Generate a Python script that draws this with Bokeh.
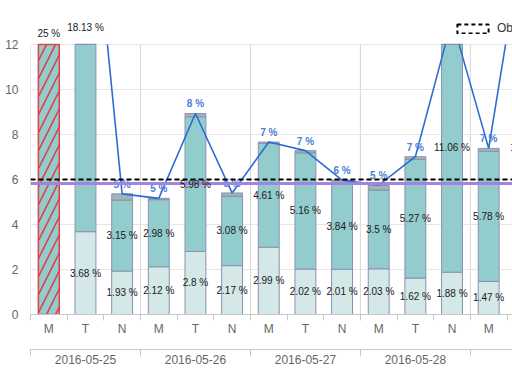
import numpy as np
from bokeh.plotting import figure
from bokeh.models import (ColumnDataSource, Range1d, LinearAxis, FixedTicker, LabelSet,
                          Span, Legend, LegendItem, Grid)
from bokeh.embed import file_html
from bokeh.resources import INLINE
from bokeh.core.properties import value

# ---------------- data ----------------
dates = ["2016-05-25", "2016-05-26", "2016-05-27", "2016-05-28", "2016-05-29"]
shifts = ["M", "T", "N"]
cat_date = ["2016-05-25", "2016-05-25", "2016-05-25",
            "2016-05-26", "2016-05-26", "2016-05-26",
            "2016-05-27", "2016-05-27", "2016-05-27",
            "2016-05-28", "2016-05-28", "2016-05-28",
            "2016-05-29", "2016-05-29"]
cat_shift = ["M", "T", "N", "M", "T", "N", "M", "T", "N", "M", "T", "N", "M", "T"]
bottom_vals = [0, 3.68, 1.93, 2.12, 2.8, 2.17, 2.99, 2.02, 2.01, 2.03, 1.62, 1.88, 1.47, 1.6]
middle_vals = [25, 18.13, 3.15, 2.98, 5.98, 3.08, 4.61, 5.16, 3.84, 3.5, 5.27, 11.06, 5.78, 11.6]
top_vals = [0, 0.1, 0.28, 0.06, 0.15, 0.15, 0.06, 0.1, 0.12, 0.2, 0.12, 0.15, 0.13, 0.15]
flagged = [True, False, False, False, False, False, False, False, False, False, False, False, False, False]
line_vals = [25, 21.9, 5.36, 5.16, 8.93, 5.4, 7.66, 7.28, 5.97, 5.75, 7.01, 13.1, 7.38, 17.4]
line_labels = ["25 %", "21 %", "5 %", "5 %", "8 %", "5 %", "7 %", "7 %", "6 %", "5 %", "7 %", "13 %", "7 %", "17 %"]
objective = 6.0
average = 5.82
y_ticks = [0, 2, 4, 6, 8, 10, 12]
y_max = 12
legend_label = "Objectif"

FONT_NAME = "Liberation Sans"
FONT = value(FONT_NAME)

n = len(cat_shift)
x = np.arange(n)
b = np.array(bottom_vals, dtype=float)
m = np.array(middle_vals, dtype=float)
t = np.array(top_vals, dtype=float)
lv = np.array(line_vals, dtype=float)
flag = np.array(flagged)
normal = ~flag

group_bounds = [-0.5 + len(shifts) * k for k in range(len(dates) + 1)]
group_centers = [1 + len(shifts) * k for k in range(len(dates))]

y_end = 13.95
p = figure(width=512, height=368, x_range=Range1d(-0.5, 12.65), y_range=Range1d(0, y_end),
           output_backend="svg", toolbar_location=None,
           x_axis_type=None, y_axis_type=None,
           min_border_left=30, min_border_right=0, min_border_top=0, min_border_bottom=54)
p.outline_line_color = None
p.background_fill_color = "white"

# grids (the plotting area stops at y_max; texts may go above it)
p.add_layout(Grid(dimension=1, ticker=FixedTicker(ticks=y_ticks[1:]), grid_line_color="#e6e6e6"))
p.segment(x0=group_bounds, y0=0, x1=group_bounds, y1=y_max, line_color="#d6d6d6", line_width=1,
          level="underlay")

# axes
yax = LinearAxis(ticker=FixedTicker(ticks=y_ticks), axis_line_color=None,
                 major_tick_line_color=None, minor_tick_line_color=None,
                 major_tick_out=0, major_tick_in=0, major_label_standoff=12,
                 major_label_text_font=FONT_NAME, major_label_text_font_size="12px",
                 major_label_text_color="#666666")
p.add_layout(yax, "left")

ax1 = LinearAxis(ticker=FixedTicker(ticks=list(x), minor_ticks=[i - 0.5 for i in range(n + 1)]),
                 major_label_overrides={int(i): s for i, s in zip(x, cat_shift)},
                 axis_line_color="#c8c8c8", major_tick_line_color=None, major_tick_out=6, major_tick_in=0,
                 minor_tick_line_color="#c8c8c8", minor_tick_out=6, minor_tick_in=0,
                 major_label_standoff=1, major_label_text_font=FONT_NAME,
                 major_label_text_font_size="12px", major_label_text_color="#666666",
                 axis_label=" ", axis_label_text_font_size="6px", axis_label_standoff=2)
p.add_layout(ax1, "below")

ax2 = LinearAxis(ticker=FixedTicker(ticks=group_centers, minor_ticks=group_bounds),
                 major_label_overrides={int(c): d for c, d in zip(group_centers, dates)},
                 axis_line_color="#c8c8c8", major_tick_line_color=None, major_tick_out=0, major_tick_in=0,
                 minor_tick_line_color="#c8c8c8", minor_tick_out=7, minor_tick_in=0,
                 major_label_standoff=-2, major_label_text_font=FONT_NAME,
                 major_label_text_font_size="12px", major_label_text_color="#666666")
p.add_layout(ax2, "below")

# stacked bars, cut at the top of the plotting area
W = 0.57
edge = "#8a92b2"
c1 = np.minimum(b, y_max)
c2 = np.minimum(b + m, y_max)
c3 = np.minimum(b + m + t, y_max)
src = ColumnDataSource(dict(x=x[normal], b0=np.zeros(normal.sum()), b1=c1[normal],
                            b2=c2[normal], b3=c3[normal]))
p.vbar(x="x", bottom="b0", top="b1", width=W, source=src, fill_color="#d4e8e8", line_color=edge, line_width=1)
p.vbar(x="x", bottom="b1", top="b2", width=W, source=src, fill_color="#93cccc", line_color=edge, line_width=1)
p.vbar(x="x", bottom="b2", top="b3", width=W, source=src, fill_color="#a3b3b6", line_color=edge, line_width=1)

fsrc = ColumnDataSource(dict(x=x[flag], b0=c1[flag], top=c3[flag]))
p.vbar(x="x", bottom="b0", top="top", width=W, source=fsrc, fill_color="#93cccc",
       line_color="#e04040", line_width=1.5, hatch_pattern="/", hatch_color="#e04040",
       hatch_scale=18, hatch_weight=1.6)

# line, cut where it leaves the plotting area
lx, ly = [], []
for i in range(n):
    if i > 0:
        x0, y0, x1, y1 = x[i - 1], lv[i - 1], x[i], lv[i]
        if (y0 <= y_max) != (y1 <= y_max):
            lx.append(x0 + (y_max - y0) / (y1 - y0) * (x1 - x0))
            ly.append(y_max)
            if y1 > y_max:
                lx.append(np.nan)
                ly.append(np.nan)
    if lv[i] <= y_max:
        lx.append(x[i])
        ly.append(lv[i])
p.line(lx, ly, line_color="#2e6cd2", line_width=1.6)

inside = lv <= y_max
p.text(x[inside], lv[inside], text=[s for s, k in zip(line_labels, inside) if k], y_offset=-4,
       text_baseline="bottom", text_align="center", text_font=FONT, text_font_size="10px",
       text_font_style="bold", text_color="#4a80d9")

# reference lines
p.add_layout(Span(location=average, dimension="width", line_color="#a184e0", line_width=3))
p.add_layout(Span(location=objective, dimension="width", line_color="black", line_width=2, line_dash="5 3"))

# segment labels
has_b = b > 0
lab_src = ColumnDataSource(dict(
    x=np.concatenate([x[has_b], x]),
    y=np.concatenate([(b / 2)[has_b], b + m / 2]),
    text=[f"{v:g} %" for v in b[has_b]] + [f"{v:g} %" for v in m]))
p.add_layout(LabelSet(x="x", y="y", text="text", source=lab_src, text_align="center",
                      text_baseline="middle", text_font=FONT, text_font_size="10px",
                      text_color="#1a1a1a", level="overlay"))

# legend (symbol of the objective series: dashed box)
leg_r = p.quad(left=[np.nan], right=[np.nan], top=[np.nan], bottom=[np.nan], fill_color="white",
               line_color="black", line_width=2, line_dash="4 3")
legend = Legend(items=[LegendItem(label=legend_label, renderers=[leg_r])], location=(423, 279),
                padding=0, margin=0, spacing=0, border_line_color=None, background_fill_alpha=0,
                glyph_width=39, glyph_height=11, label_height=11, label_standoff=5,
                label_text_font=FONT_NAME, label_text_font_size="12px", label_text_color="#333333",
                level="overlay")
p.add_layout(legend, "center")

open("out.html", "w").write(file_html(p, INLINE))
